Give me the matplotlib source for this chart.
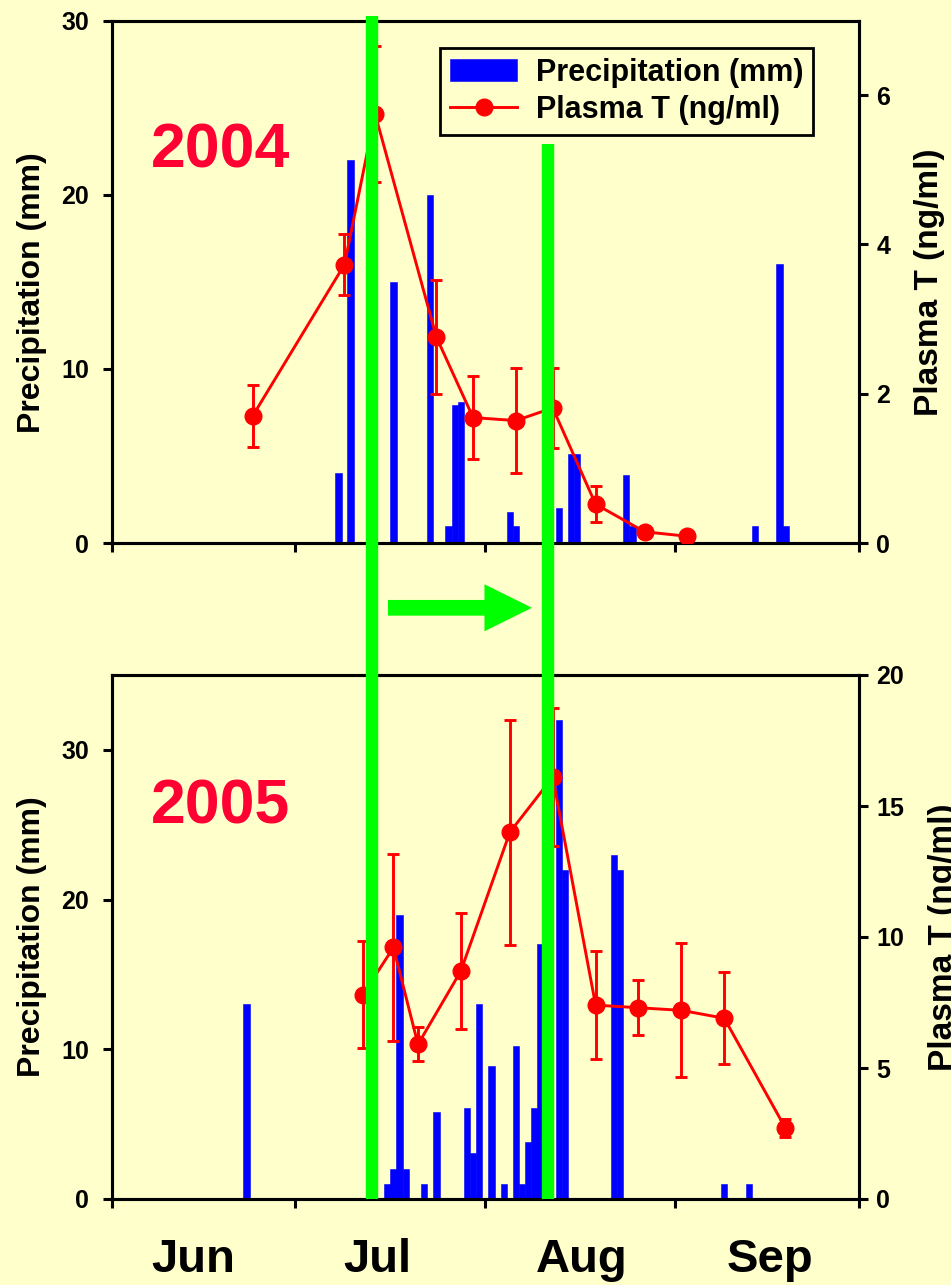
import matplotlib
matplotlib.use('Agg')
import matplotlib.pyplot as plt
from matplotlib.lines import Line2D
from matplotlib.patches import FancyArrow
from matplotlib.transforms import blended_transform_factory

plt.rcParams['font.family'] = ['Liberation Sans', 'DejaVu Sans']
plt.rcParams['font.weight'] = 'bold'

BG = '#FFFFCC'

# ---------------- data (x = days since 1 June) ----------------
month_edges = [0, 30, 61, 92, 122]
month_names = ['Jun', 'Jul', 'Aug', 'Sep']
month_label_pos = [13.3, 43.4, 76.7, 107.5]

precip04_day = [37, 39, 42, 46, 52, 55, 56, 57, 65, 66, 73, 75, 76, 84, 85, 105, 109, 110]
precip04_mm = [4, 22, 26, 15, 20, 1, 7.9, 8.1, 1.8, 1, 2, 5.1, 5.1, 3.9, 1, 1, 16, 1]

plasma04_day = [23, 38, 43, 53, 59, 66, 72, 79, 87, 94]
plasma04_T = [1.70, 3.73, 5.75, 2.76, 1.68, 1.64, 1.81, 0.52, 0.15, 0.09]
plasma04_err = [0.42, 0.41, 0.91, 0.76, 0.56, 0.70, 0.54, 0.24, 0.0, 0.0]

precip05_day = [22, 45, 46, 47, 48, 51, 53, 58, 59, 60, 62, 64, 66, 67, 68, 69, 70,
                73, 74, 82, 83, 100, 104]
precip05_mm = [13, 1, 2, 19, 2, 1, 5.8, 6.1, 3.1, 13, 8.9, 1, 10.2, 1, 3.8, 6.1, 17,
               32, 22, 23, 22, 1, 1]

plasma05_day = [41, 46, 50, 57, 65, 72, 79, 86, 93, 100, 110]
plasma05_T = [7.8, 9.6, 5.9, 8.7, 14.0, 16.1, 7.4, 7.3, 7.2, 6.9, 2.7]
plasma05_err = [2.05, 3.58, 0.65, 2.2, 4.3, 2.64, 2.05, 1.05, 2.56, 1.75, 0.35]

green_days = [42.5, 71.3]
arrow_days = (45.1, 68.6)

# ---------------- figure ----------------
W, H = 951, 1285
fig = plt.figure(figsize=(W / 100, H / 100), dpi=100, facecolor=BG)


def fx(px):
    return px / W


def fy(py):
    return 1 - py / H


AX_L, AX_R = 111.7, 859.0
SPINE_LW = 2.2
TICK_FS = 18
LABEL_FS = 23


def make_panel(top_px, bot_px, days, mm, pdays, pT, perr, ylim_l, yticks_l, ylim_r, yticks_r,
               left_label_y):
    ax = fig.add_axes([fx(AX_L), fy(bot_px), fx(AX_R) - fx(AX_L), (bot_px - top_px) / H])
    ax.set_facecolor(BG)
    bars = ax.bar(days, mm, width=1.05, color='#0000FF', edgecolor='#0000FF', linewidth=0.4,
                  label='Precipitation (mm)', zorder=2)
    ax.set_xlim(month_edges[0], month_edges[-1])
    ax.set_ylim(*ylim_l)
    ax.set_xticks(month_edges)
    ax.set_xticklabels([])
    ax.set_yticks(yticks_l)
    ax.set_ylabel('Precipitation (mm)', fontsize=LABEL_FS, fontweight='bold', labelpad=10)

    ax2 = ax.twinx()
    eb = ax2.errorbar(pdays, pT, yerr=perr, color='#FF0000', marker='o', markersize=12,
                      linewidth=2.1, elinewidth=2.1, capsize=4, capthick=2.1,
                      label='Plasma T (ng/ml)', zorder=3)
    ax2.set_ylim(*ylim_r)
    ax2.set_yticks(yticks_r)
    ax2.set_ylabel('Plasma T (ng/ml)', fontsize=LABEL_FS + 1, fontweight='bold', labelpad=17)

    for a in (ax, ax2):
        for s in a.spines.values():
            s.set_linewidth(SPINE_LW)
        a.tick_params(axis='both', direction='out', length=6.5, width=SPINE_LW,
                      labelsize=TICK_FS, pad=6)
    ax.tick_params(axis='y', pad=10)
    ax.yaxis.label.set_y(left_label_y)
    return ax, ax2, bars, eb


ax1, ax1r, bars1, eb1 = make_panel(20.5, 543, precip04_day, precip04_mm, plasma04_day,
                                   plasma04_T, plasma04_err, (0, 30), [0, 10, 20, 30],
                                   (0, 7), [0, 2, 4, 6], 0.48)
ax2, ax2r, bars2, eb2 = make_panel(675, 1199, precip05_day, precip05_mm, plasma05_day,
                                   plasma05_T, plasma05_err, (0, 35), [0, 10, 20, 30],
                                   (0, 20), [0, 5, 10, 15, 20], 0.5)

# legend (top panel)
leg = ax1r.legend([bars1, eb1[0]], ['Precipitation (mm)', 'Plasma T (ng/ml)'],
                  loc='upper right',
                  bbox_to_anchor=((813 - AX_L) / (AX_R - AX_L), 1 - (48 - 20.5) / (543 - 20.5)),
                  borderaxespad=0, fontsize=22, frameon=True, fancybox=False,
                  handlelength=2.2, handletextpad=0.6, labelspacing=0.23, borderpad=0.32,
                  numpoints=1)
leg.get_frame().set_edgecolor('black')
leg.get_frame().set_linewidth(2.0)
leg.get_frame().set_facecolor(BG)
leg.get_frame().set_alpha(1)

# year labels
fig.text(fx(151), fy(167), '2004', fontsize=45, color='#FF0033', fontweight='bold',
         ha='left', va='baseline')
fig.text(fx(151), fy(824), '2005', fontsize=45, color='#FF0033', fontweight='bold',
         ha='left', va='baseline')

# month labels under the bottom panel
mtrans = blended_transform_factory(ax2.transData, fig.transFigure)
for pos, name in zip(month_label_pos, month_names):
    ax2.text(pos, fy(1272), name, transform=mtrans, ha='center', va='baseline',
             fontsize=34, fontweight='bold', clip_on=False)

# green vertical markers spanning both panels + arrow
gtrans = blended_transform_factory(ax1.transData, fig.transFigure)
green_tops = [16, 144]
for d, top in zip(green_days, green_tops):
    fig.add_artist(Line2D([d, d], [fy(top), fy(1199)], transform=gtrans, color='#00FF00',
                          linewidth=8.9, solid_capstyle='butt', zorder=10))

fig.add_artist(FancyArrow(arrow_days[0], fy(607.8), arrow_days[1] - arrow_days[0], 0,
                          width=15.7 / H, head_width=47 / H, head_length=47.4 / 6.12,
                          length_includes_head=True, color='#00FF00', linewidth=0,
                          transform=gtrans, zorder=10))

fig.savefig('out.png', dpi=100, facecolor=BG)
